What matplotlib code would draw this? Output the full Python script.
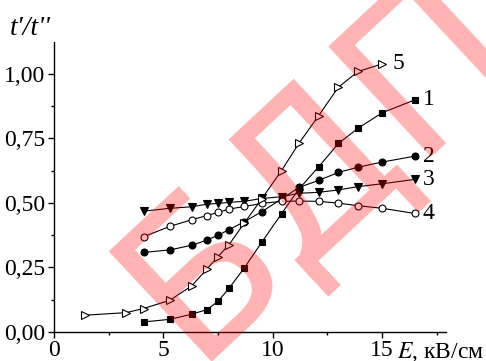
import matplotlib
matplotlib.use('Agg')
from matplotlib import pyplot as plt
from matplotlib.ticker import MultipleLocator, FuncFormatter

# field strength, kV/cm
E = [4.1, 5.3, 6.3, 7.0, 7.5, 8.0, 8.7, 9.5, 10.4, 11.2, 12.1, 13.0, 13.9, 15.0, 16.5]
E5 = [1.4, 3.3, 4.1, 5.3, 6.3, 7.0, 7.5, 8.0, 8.7, 9.5, 10.4, 11.2, 12.1, 13.0, 13.9, 15.0]

curve1 = [0.039, 0.049, 0.069, 0.087, 0.119, 0.169, 0.248, 0.348, 0.458, 0.554,
          0.640, 0.730, 0.789, 0.849, 0.899]
curve2 = [0.308, 0.318, 0.336, 0.356, 0.375, 0.396, 0.427, 0.466, 0.515, 0.560,
          0.587, 0.618, 0.638, 0.658, 0.681]
curve3 = [0.468, 0.479, 0.485, 0.495, 0.498, 0.502, 0.506, 0.517, 0.524, 0.537,
          0.541, 0.550, 0.563, 0.574, 0.591]
curve4 = [0.369, 0.409, 0.435, 0.451, 0.463, 0.476, 0.486, 0.498, 0.506, 0.507,
          0.506, 0.499, 0.489, 0.479, 0.459]
curve5 = [0.065, 0.075, 0.091, 0.123, 0.179, 0.245, 0.292, 0.338, 0.422, 0.516,
          0.625, 0.731, 0.838, 0.948, 1.009, 1.038]

labels = ['1', '2', '3', '4', '5']

plt.rcParams['font.family'] = 'Liberation Serif'
plt.rcParams['mathtext.fontset'] = 'stix'


def main():
    fig = plt.figure(figsize=(4.86, 3.61), dpi=100)
    ax = fig.add_axes([54 / 486, 29 / 361, 392 / 486, 290 / 361])

    line = dict(color='black', lw=0.8, mec='black', mew=0.8)
    ax.plot(E, curve1, marker='s', ms=4.3, mfc='black', **line)
    ax.plot(E, curve2, marker='o', ms=5, mfc='black', **line)
    ax.plot(E, curve3, marker='v', ms=5.5, mfc='black', **line)
    ax.plot(E, curve4, marker='o', ms=5, mfc='white', **line)
    ax.plot(E5, curve5, marker='>', ms=5.5, mfc='white', **line)

    # curve numbers at the right ends
    ax.text(16.85, curve1[-1], labels[0], fontsize=17, va='center', ha='left')
    ax.text(16.85, curve2[-1], labels[1], fontsize=17, va='center', ha='left')
    ax.text(16.85, curve3[-1], labels[2], fontsize=17, va='center', ha='left')
    ax.text(16.85, curve4[-1], labels[3], fontsize=17, va='center', ha='left')
    ax.text(15.5, curve5[-1], labels[4], fontsize=17, va='center', ha='left')

    ax.set_xlim(0, 17.92)
    ax.set_ylim(0, 1.123)
    ax.spines['top'].set_visible(False)
    ax.spines['right'].set_visible(False)
    ax.spines['left'].set_linewidth(1.0)
    ax.spines['bottom'].set_linewidth(1.0)

    ax.xaxis.set_major_locator(MultipleLocator(5))
    ax.xaxis.set_minor_locator(MultipleLocator(2.5))
    ax.yaxis.set_major_locator(MultipleLocator(0.25))
    ax.yaxis.set_minor_locator(MultipleLocator(0.125))
    ax.yaxis.set_major_formatter(FuncFormatter(lambda v, p: f'{v:.2f}'.replace('.', ',')))
    ax.xaxis.set_major_formatter(FuncFormatter(lambda v, p: f'{v:.0f}' if v < 16 else ''))
    ax.tick_params(which='major', direction='out', length=4, width=1.0, labelsize=17, pad=2)
    ax.tick_params(which='minor', direction='out', length=2.5, width=1.0)

    fig.text(397 / 486, 3 / 361, r'$E$, кВ/см', fontsize=17, ha='left', va='baseline')
    fig.text(10 / 486, 1 - 16 / 361, "t'/t''", fontsize=20, style='italic',
             ha='left', va='top')

    # watermark
    fig.text(192 / 486, 1 - 362 / 361, 'БДПУ', family='DejaVu Sans',
             fontsize=148, color='red', alpha=0.3, rotation=43,
             rotation_mode='anchor', ha='left', va='baseline', zorder=10)

    fig.savefig('out.png', dpi=100)


if __name__ == '__main__':
    main()
